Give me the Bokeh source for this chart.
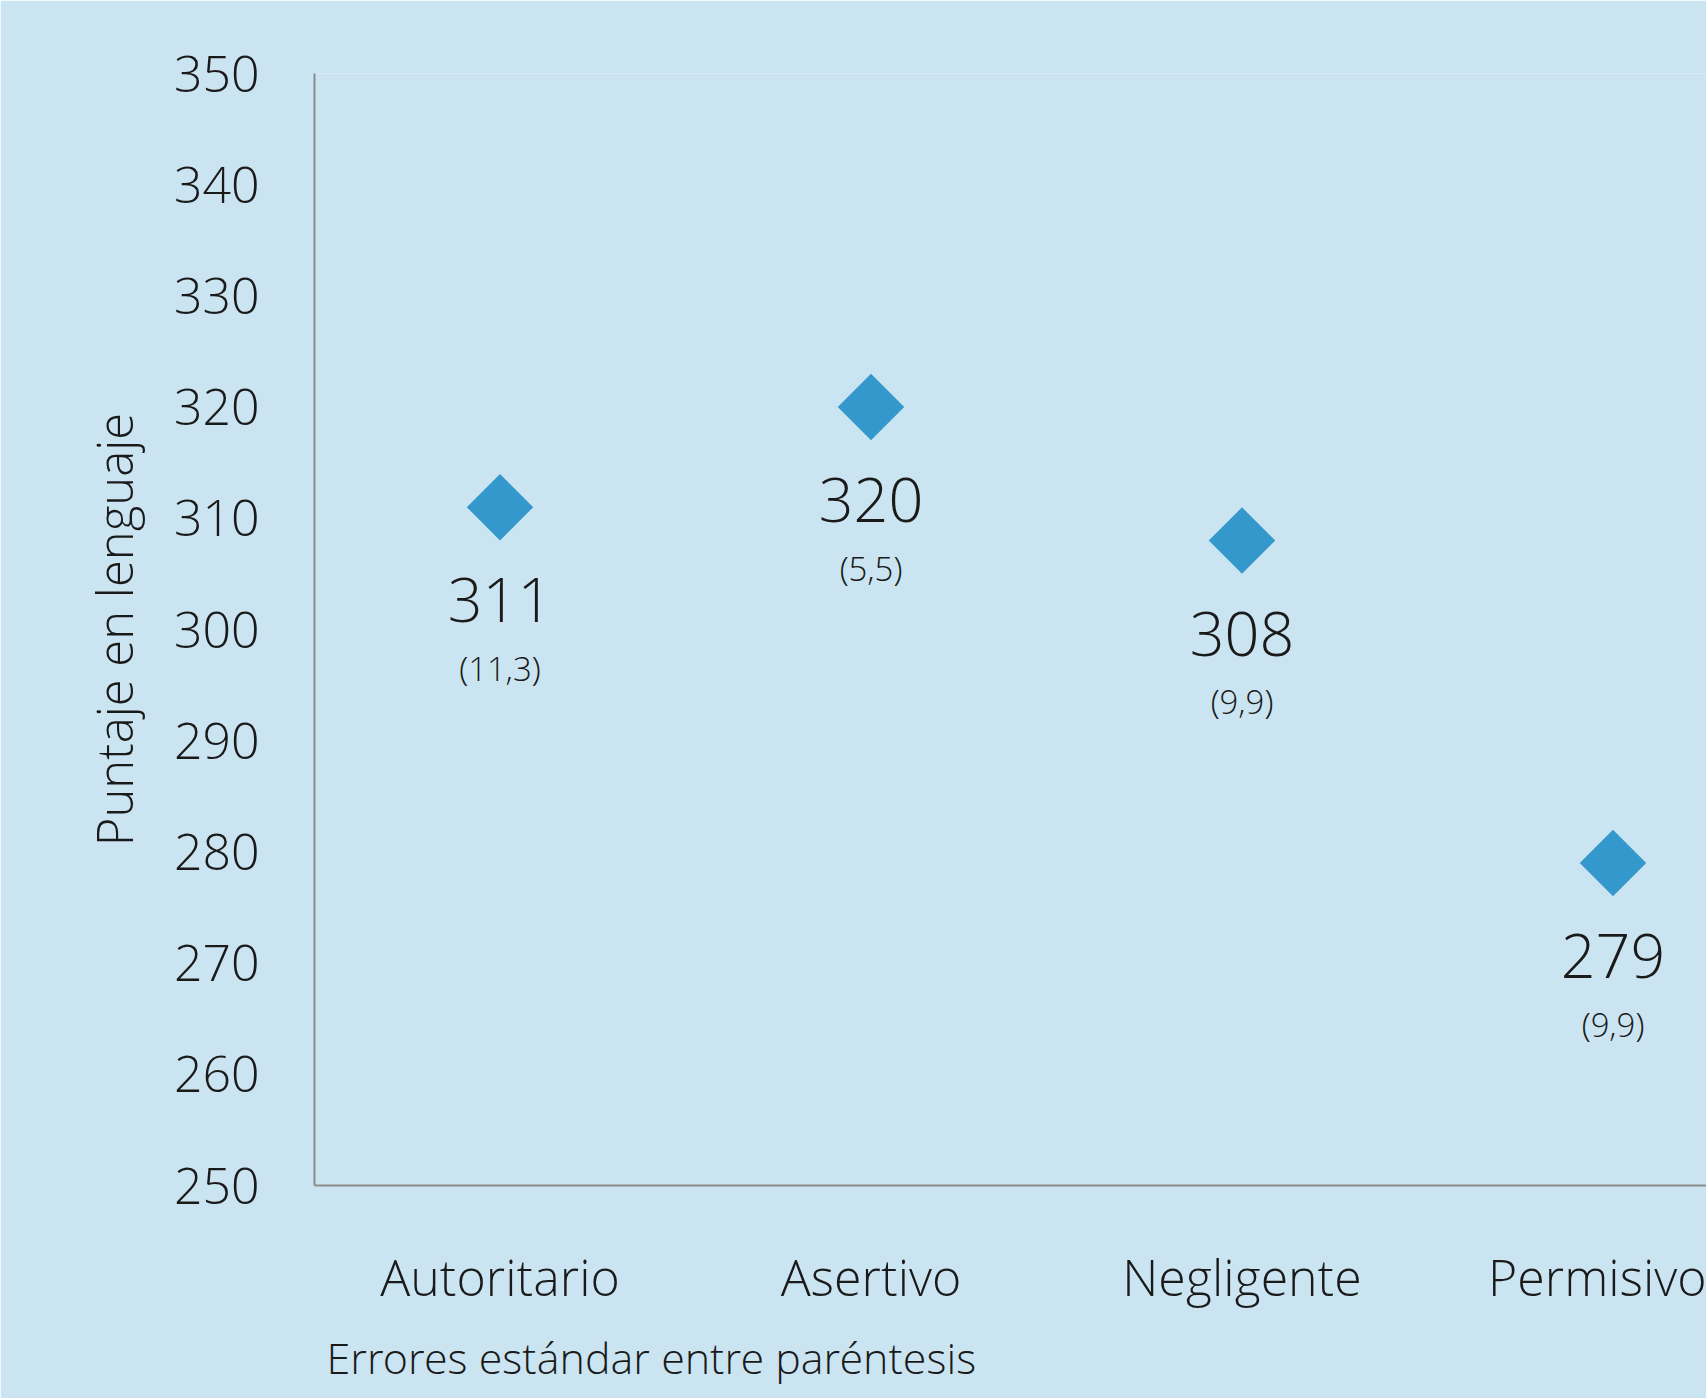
from bokeh.plotting import figure
from bokeh.models import Range1d, FixedTicker, ColumnDataSource, Title
from bokeh.core.properties import value
from bokeh.embed import file_html
from bokeh.resources import INLINE
import math

categories = ["Autoritario", "Asertivo", "Negligente", "Permisivo"]
scores = [311, 320, 308, 279]
std_errors = ["(11,3)", "(5,5)", "(9,9)", "(9,9)"]
y_ticks = [250, 260, 270, 280, 290, 300, 310, 320, 330, 340, 350]

BG = "#CAE5F1"
FONT = "'Open Sans Light', 'Open Sans'"

xs = [i + 0.5 for i in range(len(categories))]
src = ColumnDataSource(dict(x=xs, y=scores, lab=[str(s) for s in scores], se=std_errors))

p = figure(width=1706, height=1398, output_backend="svg", toolbar_location=None,
           x_range=Range1d(0, 3.752), y_range=Range1d(250, 350),
           min_border_left=314, min_border_right=0, min_border_top=73, min_border_bottom=211)
p.background_fill_color = BG
p.border_fill_color = BG
p.outline_line_color = None
p.xgrid.visible = False
p.ygrid.visible = False

p.scatter("x", "y", source=src, marker="square", angle=math.pi / 4, size=47,
          fill_color="#3498CD", line_color=None)
p.text("x", "y", text="lab", source=src, y_offset=93, text_align="center", text_baseline="middle",
       text_font=value(FONT), text_font_size="61px", text_color="#1a1a1a")
p.text("x", "y", text="se", source=src, y_offset=161, text_align="center", text_baseline="middle",
       text_font=value(FONT), text_font_size="33px", text_color="#1a1a1a")

for ax in (p.xaxis[0], p.yaxis[0]):
    ax.axis_line_color = "#8c8c8c"
    ax.axis_line_width = 2
    ax.major_tick_line_color = None
    ax.minor_tick_line_color = None
    ax.major_label_text_font = FONT
    ax.major_label_text_color = "#1a1a1a"

p.yaxis.ticker = FixedTicker(ticks=y_ticks)
p.yaxis.major_label_text_font_size = "50px"
p.yaxis.major_label_standoff = 49
p.yaxis.axis_label = "Puntaje en lenguaje"
p.yaxis.axis_label_text_font = FONT
p.yaxis.axis_label_text_font_size = "49px"
p.yaxis.axis_label_text_font_style = "normal"
p.yaxis.axis_label_text_color = "#1a1a1a"
p.yaxis.axis_label_standoff = 24

p.xaxis.ticker = FixedTicker(ticks=xs)
p.xaxis.major_label_overrides = {x: c for x, c in zip(xs, categories)}
p.xaxis.major_label_text_font_size = "50px"
p.xaxis.major_label_standoff = 51

note = Title(text="Errores estándar entre paréntesis", align="left", offset=12, standoff=24,
             text_font=FONT, text_font_size="43px", text_font_style="normal", text_color="#1a1a1a")
p.add_layout(note, "below")

open("out.html", "w").write(file_html(p, INLINE))
